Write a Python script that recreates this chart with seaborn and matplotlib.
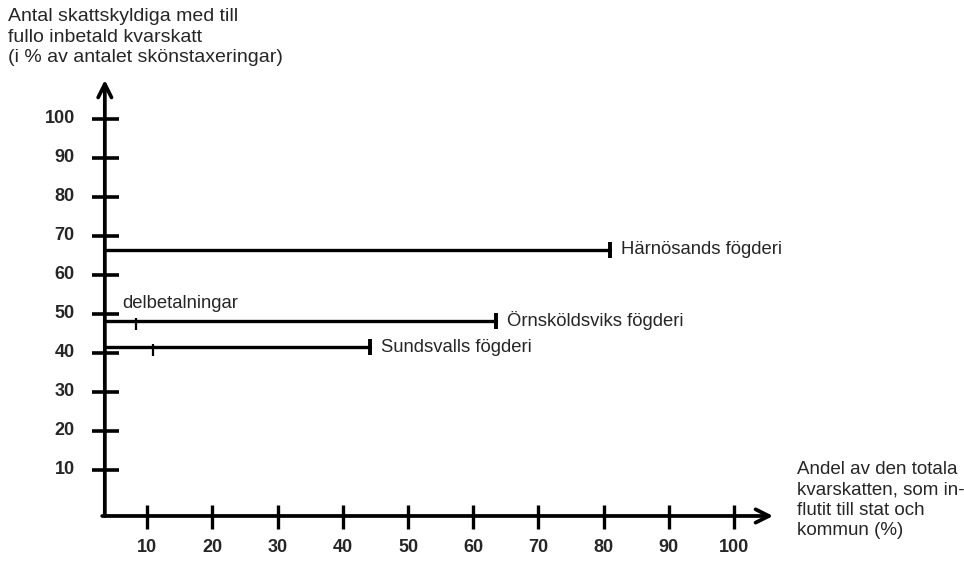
import matplotlib
matplotlib.use('Agg')
import matplotlib.pyplot as plt
import pandas as pd
import seaborn as sns

# Values
districts = ['Härnösands fögderi', 'Örnsköldsviks fögderi', 'Sundsvalls fögderi']
share_full_paid = [66.4, 48.2, 41.5]      # y: % of taxpayers with fully paid tax
share_collected = [81.0, 63.5, 44.2]      # x: % of total residual tax collected
part_payments = [None, 8.3, 10.9]         # x position of 'delbetalningar' mark
x_ticks = [10, 20, 30, 40, 50, 60, 70, 80, 90, 100]
y_ticks = [10, 20, 30, 40, 50, 60, 70, 80, 90, 100]

y_title = 'Antal skattskyldiga med till\nfullo inbetald kvarskatt\n(i % av antalet skönstaxeringar)'
x_title = 'Andel av den totala\nkvarskatten, som in-\nflutit till stat och\nkommun (%)'

origin_x, origin_y = 3.5, -1.8

sns.set_style('white')
plt.rcParams['font.family'] = ['Liberation Sans', 'DejaVu Sans']

fig = plt.figure(figsize=(9.64, 5.62), dpi=100)
ax = fig.add_axes([0, 0, 1, 1])
ax.set_xlim(-12.58, 135.28)
ax.set_ylim(-13.6, 130.5)
ax.axis('off')

# Axes with open arrow heads
ax.annotate('', xy=(origin_x, 110.0), xytext=(origin_x, origin_y),
            arrowprops=dict(arrowstyle='->', lw=2.7, color='black',
                            mutation_scale=24, shrinkA=0, shrinkB=0))
ax.annotate('', xy=(106.0, origin_y), xytext=(origin_x - 0.4, origin_y),
            arrowprops=dict(arrowstyle='->', lw=2.7, color='black',
                            mutation_scale=24, shrinkA=0, shrinkB=0))

# Tick marks and labels
ax.hlines(y_ticks, 1.5, 5.6, color='black', lw=2.6)
for t in y_ticks:
    ax.text(-1.1, t, str(t), ha='right', va='center', fontsize=13, fontweight='bold')
ax.vlines(x_ticks, origin_y + 2.9, origin_y - 3.3, color='black', lw=2.4)
for t in x_ticks:
    ax.text(t, -9.9, str(t), ha='center', va='center', fontsize=13, fontweight='bold')

# District lines
rows = []
for name, y, x in zip(districts, share_full_paid, share_collected):
    rows.append({'district': name, 'x': origin_x, 'y': y})
    rows.append({'district': name, 'x': x, 'y': y})
df = pd.DataFrame(rows)
sns.lineplot(data=df, x='x', y='y', units='district', estimator=None,
             color='black', lw=2.4, ax=ax, legend=False)

for name, y, x, p in zip(districts, share_full_paid, share_collected, part_payments):
    ax.plot([x], [y], marker='|', color='black', markersize=11, mew=2.8)
    ax.annotate(name, (x, y), xytext=(8, 0), textcoords='offset points',
                ha='left', va='center', fontsize=13.3)
    if p is not None:
        ax.plot([p], [y - 0.7], marker='|', color='black', markersize=9, mew=1.6)

ax.text(6.2, share_full_paid[1] + 2.2, 'delbetalningar', ha='left', va='bottom', fontsize=13.3)

fig.text(8 / 964, 1 - 8 / 562, y_title, ha='left', va='top', fontsize=14, linespacing=1.28)
ax.text(109.7, 12.4, x_title, ha='left', va='top', fontsize=13.5, linespacing=1.27)

fig.savefig('out.png', dpi=100)
